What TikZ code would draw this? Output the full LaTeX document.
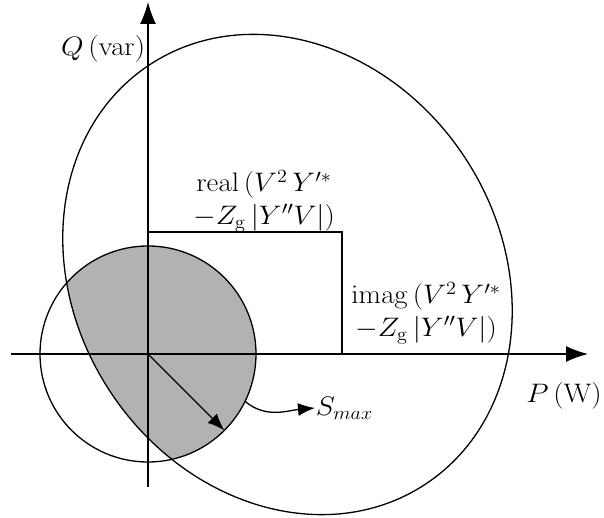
\documentclass[tikz,border=0pt]{standalone}
\usetikzlibrary{arrows.meta}
\begin{document}
\begin{tikzpicture}[x=1pt,y=1pt,line width=1.3pt,
  lab/.style={inner sep=0pt,font=\huge,xscale=1.4,yscale=1.29,transform shape},
  bigarrow/.style={-{Latex[length=22pt,width=16pt]}},
  smallarrow/.style={-{Latex[length=17pt,width=13pt]}},
  region/.style={fill=black!30}]
\useasboundingbox (-148,-164) rectangle (456,354);
\coordinate (O) at (0,0);
\coordinate (C) at (139.5,79.5);
\begin{scope}
  \clip (O) circle (108);
  \fill[region,rotate around={-56.8:(C)}] (C) ellipse (251 and 212.5);
\end{scope}
\draw (O) circle (108);
\draw[rotate around={-56.8:(C)}] (C) ellipse (251 and 212.5);
% axes
\coordinate (ytop) at (0,352);
\coordinate (ybot) at (0,-133);
\coordinate (xl) at (-137,0);
\coordinate (xr) at (440,0);
\draw[bigarrow] (ybot) -- (ytop);
\draw[bigarrow] (xl) -- (xr);
% box
\coordinate (b1) at (0,122);
\coordinate (b2) at (194,0);
\draw (b1) -| (b2);
% labels
\node[lab,anchor=east] (q) at (-2,305) {$Q\,(\mathrm{var})$};
\node[lab,align=center] (re) at (116,153) {$\mathrm{real}\,(V^2\,Y'^*$\\$-Z_{\mathrm{g}}\,|Y''V|)$};
\node[lab,align=center] (im) at (278,41) {$\mathrm{imag}\,(V^2\,Y'^*$\\$-Z_{\mathrm{g}}\,|Y''V|)$};
\node[lab] (p) at (416,-42) {$P\,(\mathrm{W})$};
\node[lab,anchor=west] (smax) at (167,-54) {$S_{max}$};
% radius and pointer
\coordinate (rad) at (-45:108);
\coordinate (s0) at (-26:108);
\draw[smallarrow] (O) -- (rad);
\draw[smallarrow] (s0) to[out=-40,in=185] (smax.west);
\end{tikzpicture}
\end{document}
